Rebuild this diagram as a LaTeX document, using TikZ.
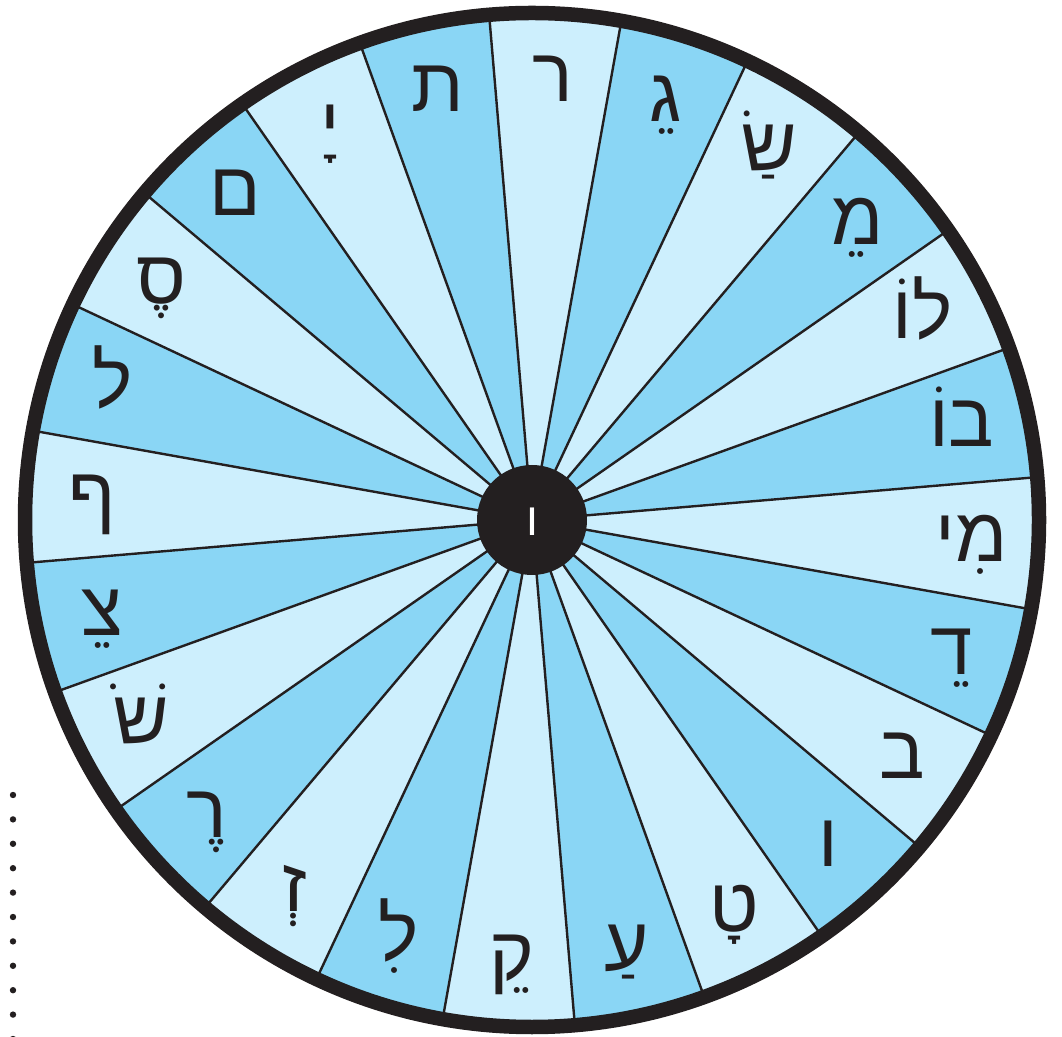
\documentclass[tikz,border=0pt]{standalone}
\usepackage{fontspec}
\newfontfamily\hebfont[Script=Hebrew]{Liberation Sans}
\TeXXeTstate=1
\definecolor{light}{HTML}{CDEFFD}
\definecolor{dark}{HTML}{8AD6F5}
\definecolor{ink}{HTML}{231F20}
\tikzset{
  lab/.style={font=\hebfont\fontsize{76}{80}\selectfont, text=ink, anchor=base, inner sep=0pt, yshift=-21pt},
  spoke/.style={draw=ink, line width=2.4pt},
  rim/.style={draw=ink, line width=14.5pt},
}
\begin{document}
\begin{tikzpicture}[x=1pt,y=1pt]
\useasboundingbox (0,0) rectangle (1062,1036);
\clip (0,0) rectangle (1062,1036);
\coordinate (c) at (532,516);
\foreach \k in {0,...,23} {
  \pgfmathsetmacro\a{94.85-15*\k}
  \pgfmathsetmacro\b{\a-15}
  \ifodd\k \def\col{dark}\else\def\col{light}\fi
  \fill[\col] (c) -- ++(\a:507) arc[start angle=\a, end angle=\b, radius=507] -- cycle;
}
\foreach \k in {0,...,23} \draw[spoke] (c) -- ++({94.85-15*\k}:507);
\draw[rim] (c) circle[radius=507];
\fill[ink] (c) circle[radius=55];
\node[font=\hebfont\fontsize{46}{46}\selectfont, text=white, anchor=base, inner sep=0pt, yshift=-16pt] (hub) at (c) {ו};
\foreach \k/\t in {0/ר,1/גֵ,2/ש^^^^05c2^^^^05b7,3/מֵ,4/לוֹ,5/בוֹ,6/מִי,7/דֵ,8/ב,9/ו,10/טָ,11/עַ,12/קֵ,13/לִ,14/זְ,15/רֶ,16/ש^^^^05c1^^^^05c2,17/צֵ,18/ף,19/ל,20/סֶ,21/ם,22/יָ,23/ת} {
  \node[lab] (l\k) at ([shift={({87.35-15*\k}:440)}]c) {\beginR\t\endR};
}
\foreach \j in {0,...,10} \fill[ink] (13,{1036-795-24.4*\j}) circle[radius=3.2];
\end{tikzpicture}
\end{document}
